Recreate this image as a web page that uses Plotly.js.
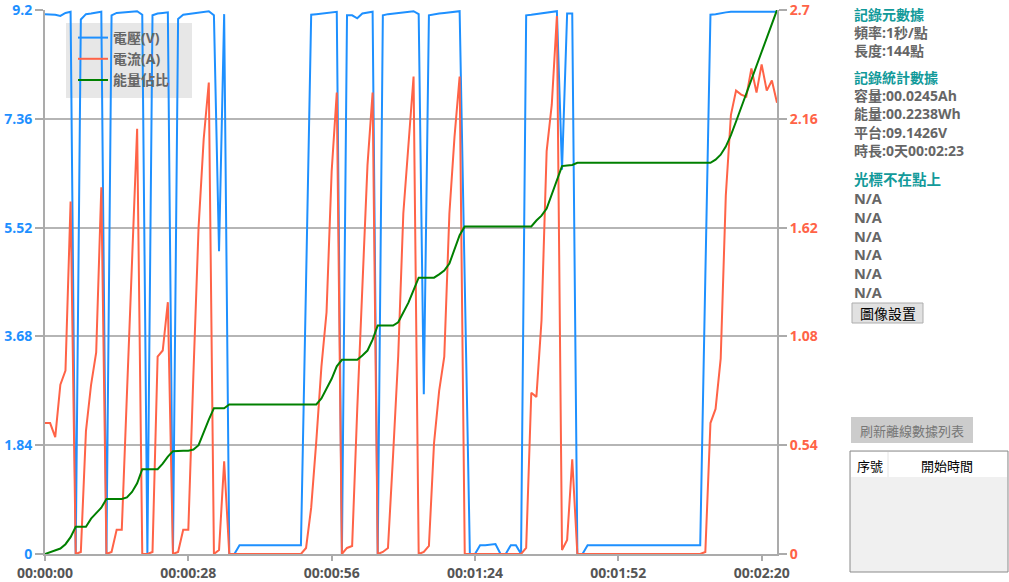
<!DOCTYPE html>
<html><head><meta charset="utf-8">
<script src="https://cdn.plot.ly/plotly-3.0.1.min.js"></script>
<style>html,body{margin:0;padding:0;background:#fff;overflow:hidden}#chart{width:1009px;height:582px}</style>
</head><body><div id="chart"></div>
<script>
// ---- data (1 point per second, 144 points) ----
const voltage = [
9.13,9.13,9.12,9.10,9.15,9.17,
0,
9.04,9.13,9.14,9.15,9.17,
0,
9.11,9.15,9.16,9.17,9.17,9.18,9.12,
0,
9.11,9.14,9.15,9.16,
0,
9.05,9.12,9.13,9.15,9.16,9.17,9.18,9.11,
5.12,
9.13,
0,0,
0.15,0.15,0.15,0.16,0.15,0.15,0.15,0.15,0.15,0.16,0.15,0.15,0.15,
4.6,
9.12,9.13,9.14,9.15,9.16,9.17,
0,
9.11,9.11,9.06,9.14,9.16,9.17,
0,
9.11,9.13,9.14,9.15,9.16,9.17,9.18,9.13,
2.7,
9.11,9.13,9.14,9.15,9.16,9.17,9.18,
4.6,
0,0,
0.15,0.15,0.16,0.17,
0,0,
0.15,0.15,
0,
9.11,9.12,9.13,9.14,9.15,9.17,9.18,
6.5,
9.14,9.14,
0,0,
0.15,0.15,0.15,0.15,0.15,0.15,0.15,0.15,0.15,0.15,0.15,0.15,0.15,0.15,0.15,0.15,0.15,0.15,0.15,0.15,0.15,0.15,0.15,
4.7,
9.12,9.13,9.15,9.16,9.17,9.17,9.17,9.17,9.17,9.17,9.17,9.17,9.17,9.17
];
const current = [
0.65,0.65,0.58,0.84,0.91,1.75,
0,0.01,0.61,0.84,1.00,1.82,
0,0.01,0.12,0.12,0.79,1.49,2.11,
0,0,0.01,0.98,1.01,1.25,
0,0.01,0.12,0.12,0.90,1.62,2.06,2.34,
0,0.02,0.46,0,
0,0,0,0,0,0,0,0,0,0,0,0,0,0,
0.03,0.23,0.56,0.93,1.20,1.90,2.29,
0,0.03,0.04,0.72,1.34,1.93,2.29,
0,0.01,0.03,0.49,0.98,1.69,2.04,2.37,
0,0.01,0.04,0.55,0.81,0.98,1.69,2.07,2.37,
0,0,0,0,0,0,0,0,0,0,0,0,
0.03,0.80,0.78,1.16,2.00,2.23,2.67,
0.02,0.07,0.47,
0,0,0,0,0,0,0,0,0,0,0,0,0,0,0,0,0,0,0,0,0,0,0,0,0,0.01,
0.65,0.72,0.97,1.78,2.18,2.30,2.28,2.27,2.41,2.29,2.43,2.30,2.35,2.24
];
const energyPct = [
0,0.3,0.6,1.0,1.8,3.1,5.0,5.0,5.0,
6.5,7.5,8.5,10.1,
10.1,10.1,10.1,
10.4,11.4,13.0,15.6,
15.6,15.6,15.6,
16.6,17.9,18.9,
19.0,19.0,19.0,
19.2,20.0,22.5,24.7,26.8,
26.8,26.8,
27.5,27.5,27.5,27.5,27.5,27.5,27.5,27.5,27.5,27.5,27.5,27.5,27.5,27.5,27.5,27.5,27.5,27.5,
28.6,30.3,32.2,34.5,35.7,
35.7,35.7,35.7,
36.5,37.4,39.4,42.0,
42.0,42.0,42.0,
42.6,44.3,46.2,48.5,50.8,
50.8,50.8,50.8,
51.4,52.1,53.4,56.0,58.6,60.2,
60.2,60.2,60.2,60.2,60.2,60.2,60.2,60.2,60.2,60.2,60.2,60.2,60.2,
61.3,62.2,63.5,66.1,69.0,71.3,71.4,71.5,71.9,
71.9,71.9,71.9,71.9,71.9,71.9,71.9,71.9,71.9,71.9,71.9,71.9,71.9,71.9,71.9,71.9,71.9,71.9,71.9,71.9,71.9,71.9,71.9,71.9,71.9,71.9,
72.5,73.4,74.9,77.0,79.5,82.1,84.6,87.2,89.8,92.3,94.9,97.5,100
];
const seconds = voltage.map((_, i) => i);

const seriesNames = ['電壓(V)', '電流(A)', '能量佔比'];
const xTickVals = [0, 28, 56, 84, 112, 140];
const xTickText = ['00:00:00', '00:00:28', '00:00:56', '00:01:24', '00:01:52', '00:02:20'];
const leftTickVals = [0, 1.84, 3.68, 5.52, 7.36, 9.2];
const leftTickText = ['0', '1.84', '3.68', '5.52', '7.36', '9.2'];
const rightTickVals = [0, 0.54, 1.08, 1.62, 2.16, 2.7];
const rightTickText = ['0', '0.54', '1.08', '1.62', '2.16', '2.7'];

const metaHeader = '記錄元數據';
const metaLines = ['頻率:1秒/點', '長度:144點'];
const statsHeader = '記錄統計數據';
const statsLines = ['容量:00.0245Ah', '能量:00.2238Wh', '平台:09.1426V', '時長:0天00:02:23'];
const cursorHeader = '光標不在點上';
const cursorLines = ['N/A', 'N/A', 'N/A', 'N/A', 'N/A', 'N/A'];
const buttonLabels = ['圖像設置', '刷新離線數據列表'];
const tableHeaders = ['序號', '開始時間'];

// ---- layout helpers (pixel -> paper) ----
const W = 1009, H = 582, L = 45, R = 777, T = 10, B = 554;
const px = v => (v - L) / (R - L);
const py = v => (B - v) / (B - T);

const FONT = 'Open Sans, Noto Sans CJK TC, sans-serif';
const CJK = 'Noto Sans CJK TC, Open Sans, sans-serif';
const BLUE = '#1E90FF', RED = '#FF6347', GREEN = '#008000';
const TEAL = '#129a9a', GRAYTXT = '#666666', AXIS = '#ababab';

const traces = [
  {x: seconds, y: voltage, name: seriesNames[0], type: 'scatter', mode: 'lines',
   line: {color: BLUE, width: 2}, yaxis: 'y'},
  {x: seconds, y: current, name: seriesNames[1], type: 'scatter', mode: 'lines',
   line: {color: RED, width: 2}, yaxis: 'y2'},
  {x: seconds, y: energyPct, name: seriesNames[2], type: 'scatter', mode: 'lines',
   line: {color: GREEN, width: 2}, yaxis: 'y3'}
];

const annotations = [];
const addText = (text, x, y, color, size, weight, anchor, yanchor, family) => annotations.push({
  text, xref: 'paper', yref: 'paper', x: px(x), y: py(y), xanchor: anchor || 'left', yanchor: yanchor || 'middle',
  align: 'left', showarrow: false, font: {family: family || FONT, size, color, weight}
});
const block = (head, lines) => '<span style="color:' + TEAL + '">' + head + '</span><br>' + lines.join('<br>');
addText(block(metaHeader, metaLines), 852, 3, GRAYTXT, 14, 'bold', 'left', 'top');
addText(block(statsHeader, statsLines), 852, 66, GRAYTXT, 14, 'bold', 'left', 'top');
addText(block(cursorHeader, cursorLines), 852, 168, GRAYTXT, 14.5, 'bold', 'left', 'top');
addText(buttonLabels[0], 887.5, 313, '#000000', 14, 'normal', 'center', 'middle', CJK);
addText(buttonLabels[1], 912, 430, '#777777', 13, 'normal', 'center', 'middle', CJK);
addText(tableHeaders[0], 870, 465, '#000000', 13, 'normal', 'center', 'middle', CJK);
addText(tableHeaders[1], 947, 465, '#000000', 13, 'normal', 'center', 'middle', CJK);

const rect = (x0, y0, x1, y1, fill, line, lw, layer) => ({
  type: 'rect', xref: 'paper', yref: 'paper', x0: px(x0), x1: px(x1), y0: py(y1), y1: py(y0),
  fillcolor: fill, line: {color: line, width: lw}, layer: layer || 'above'
});
const shapes = [
  rect(66, 23, 192, 98, 'rgba(228,228,228,0.9)', 'rgba(0,0,0,0)', 0, 'below'),
  rect(852, 303, 923, 323, '#e1e1e1', '#adadad', 1),
  rect(851, 417, 973, 443, '#cccccc', '#cccccc', 0),
  rect(850, 451, 1008, 572, '#f0f0f0', '#8a8a8a', 1),
  rect(851, 452, 1007, 477, '#ffffff', 'rgba(0,0,0,0)', 0),
  {type: 'line', xref: 'paper', yref: 'paper', x0: px(888), x1: px(888), y0: py(452), y1: py(477),
   line: {color: '#e4e4e4', width: 1}}
];

const layout = {
  width: W, height: H,
  margin: {l: L, r: W - R, t: T, b: H - B, pad: 0},
  paper_bgcolor: '#ffffff', plot_bgcolor: '#ffffff',
  font: {family: FONT},
  showlegend: true,
  legend: {x: px(73), y: py(22), xanchor: 'left', yanchor: 'top', bgcolor: 'rgba(0,0,0,0)',
           font: {family: FONT, size: 14, color: GRAYTXT, weight: 'bold'}, tracegroupgap: 0,
           itemwidth: 30},
  xaxis: {range: [0, 143], tickvals: xTickVals, ticktext: xTickText, showgrid: false, zeroline: false,
          showline: true, linecolor: AXIS, linewidth: 2, ticks: 'outside', ticklen: 5, tickwidth: 2,
          tickcolor: AXIS, ticklabeloverflow: 'allow',
          tickfont: {family: FONT, size: 14, color: '#555555', weight: 'bold'}},
  yaxis: {range: [0, 9.2], tickvals: leftTickVals, ticktext: leftTickText, showgrid: true,
          gridcolor: '#b5b5b5', gridwidth: 2, zeroline: false, showline: true, linecolor: AXIS, linewidth: 2,
          ticks: 'outside', ticklen: 8, tickwidth: 2, tickcolor: AXIS, ticklabeloverflow: 'allow',
          tickfont: {family: FONT, size: 14, color: BLUE, weight: 'bold'}},
  yaxis2: {range: [0, 2.7], tickvals: rightTickVals, ticktext: rightTickText, overlaying: 'y', side: 'right',
           showgrid: false, zeroline: false, showline: true, linecolor: AXIS, linewidth: 2,
           ticks: 'outside', ticklen: 8, tickwidth: 2, tickcolor: AXIS, ticklabeloverflow: 'allow',
           tickfont: {family: FONT, size: 14, color: RED, weight: 'bold'}},
  yaxis3: {range: [0, 100], overlaying: 'y', visible: false, showgrid: false, zeroline: false},
  annotations, shapes
};

Plotly.newPlot('chart', traces, layout, {staticPlot: true, displayModeBar: false});
</script>
</body></html>
